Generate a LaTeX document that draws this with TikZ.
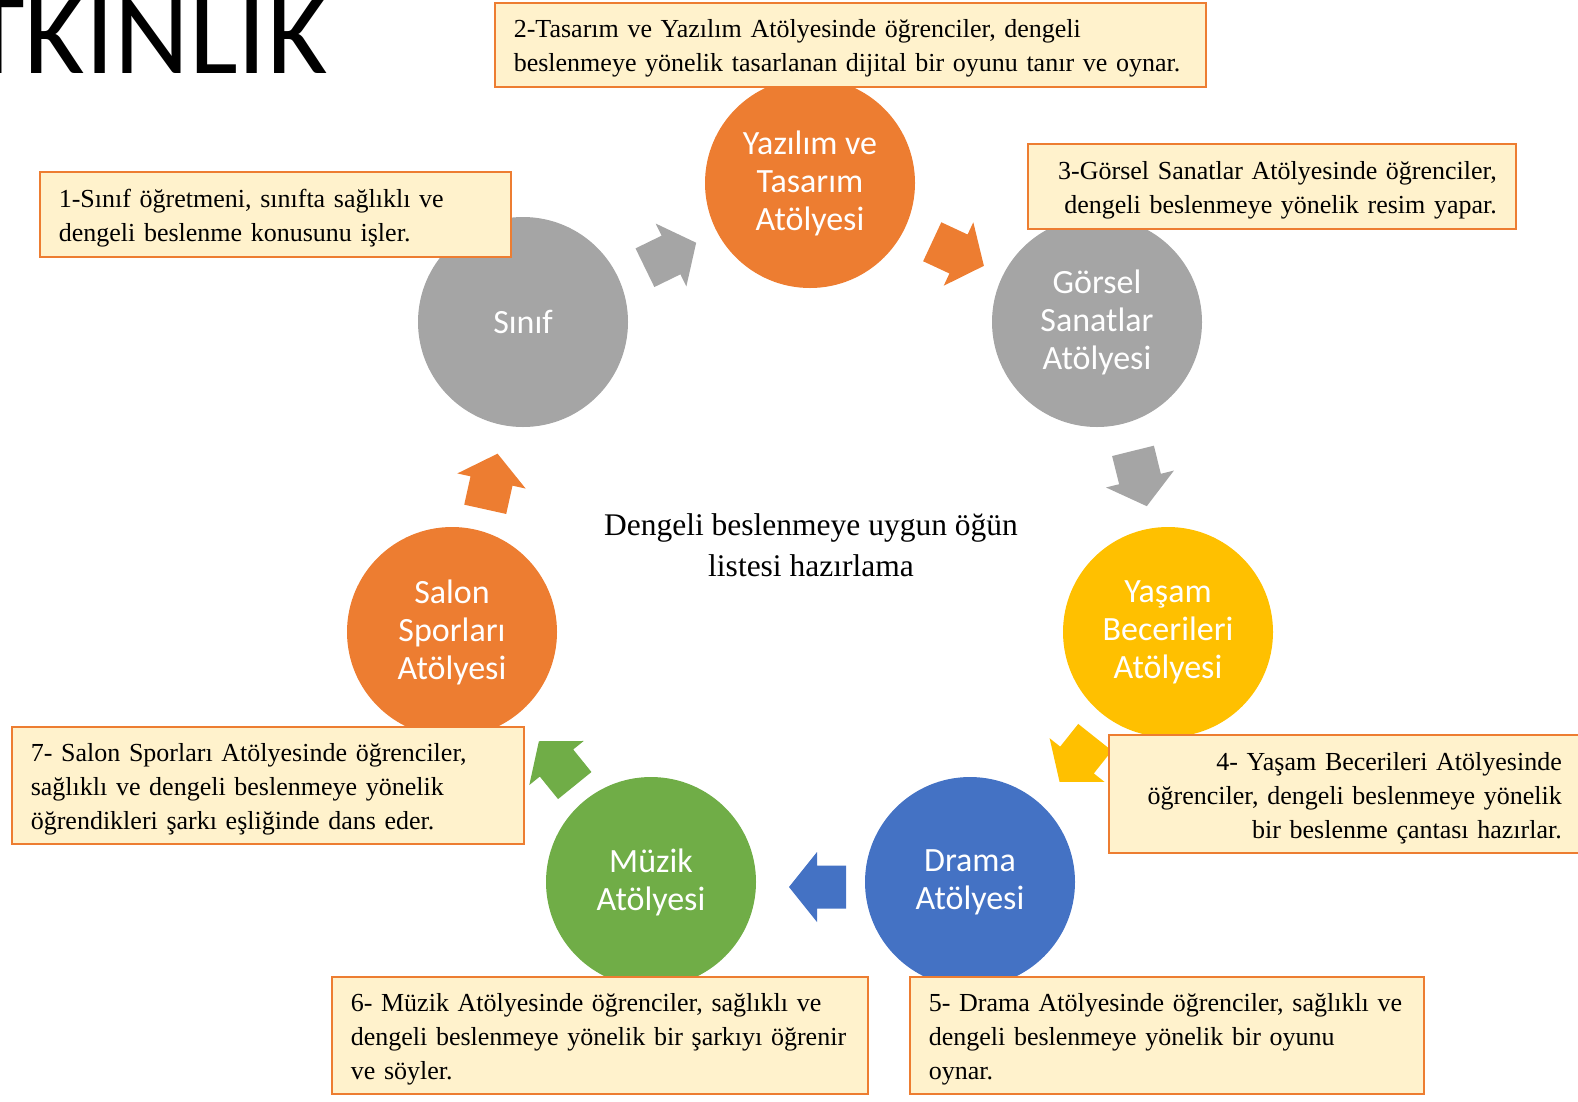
\documentclass[tikz,border=0pt]{standalone}
\usepackage{fontspec}
\setmainfont{Liberation Serif}
\newfontfamily\calib{Carlito}
\definecolor{cgray}{HTML}{A5A5A5}
\definecolor{corange}{HTML}{ED7D31}
\definecolor{cyellow}{HTML}{FFC000}
\definecolor{cblue}{HTML}{4472C4}
\definecolor{cgreen}{HTML}{70AD47}
\definecolor{cnote}{HTML}{FFF2CC}
\tikzset{
  circ/.style={circle, minimum size=210pt, inner sep=0pt, text=white,
    font=\calib\fontsize{34}{38}\selectfont, align=center},
  note/.style={draw=corange, line width=1.6pt, fill=cnote, rectangle,
    font=\fontsize{26}{34}\selectfont, inner xsep=19pt, inner ysep=0pt,
    anchor=north west, execute at begin node={\rule{0pt}{26pt}}},
  blockarrow/.pic={
    \fill[pic actions] (-29,-21.5) -- (0,-21.5) -- (0,-35) -- (28,0) -- (0,35) -- (0,21.5) -- (-29,21.5) -- cycle;
  }
}
\begin{document}
\begin{tikzpicture}[x=1pt,y=-1pt]
\useasboundingbox (0,0) rectangle (1578,1101);
\clip (0,0) rectangle (1578,1101);
% title
\node[anchor=base west, font=\calib\fontsize{116}{116}\selectfont, inner sep=0pt] (title) at (-32,73) {TKINLIK};
% circles
\node[circ, fill=cgray] (sinif) at (523,322) {Sınıf};
\node[circ, fill=corange] (yazilim) at (810,183) {Yazılım ve\\Tasarım\\Atölyesi};
\node[circ, fill=cgray] (gorsel) at (1097,322) {Görsel\\Sanatlar\\Atölyesi};
\node[circ, fill=cyellow] (yasam) at (1168,632) {Yaşam\\Becerileri\\Atölyesi};
\node[circ, fill=cblue] (drama) at (970,882) {Drama\\Atölyesi};
\node[circ, fill=cgreen] (muzik) at (651,882) {Müzik\\Atölyesi};
\node[circ, fill=corange] (salon) at (452,632) {Salon\\Sporları\\Atölyesi};
% block arrows
\path (671,255) pic[fill=cgray, rotate=26] {blockarrow};
\path (958.5,254) pic[fill=corange, rotate=-25] {blockarrow};
\path (1140,479) pic[fill=cgray, rotate=-76] {blockarrow};
\path (1077,760) pic[fill=cyellow, rotate=-128.5] {blockarrow};
\path (817,887) pic[fill=cblue, rotate=180] {blockarrow};
\path (556.5,763) pic[fill=cgreen, rotate=129] {blockarrow};
\path (491.5,481) pic[fill=corange, rotate=77.5] {blockarrow};
% centre text
\node[font=\fontsize{31.5}{41}\selectfont, align=center, inner sep=0pt] (centre) at (811,545) {Dengeli beslenmeye uygun öğün\\listesi hazırlama};
% notes
\node[note, text width=433pt, minimum height=85pt, align=left] (n1) at (39,171)
  {1-Sınıf öğretmeni, sınıfta sağlıklı ve\\dengeli beslenme konusunu işler.};
\node[note, text width=673pt, minimum height=84pt, align=left] (n2) at (494,2)
  {2-Tasarım ve Yazılım Atölyesinde öğrenciler, dengeli\\beslenmeye yönelik tasarlanan dijital bir oyunu tanır ve oynar.};
\node[note, text width=450pt, minimum height=85pt, align=right] (n3) at (1027,143)
  {3-Görsel Sanatlar Atölyesinde öğrenciler,\\dengeli beslenmeye yönelik resim yapar.};
\node[note, text width=434pt, minimum height=118pt, align=right] (n4) at (1108,734)
  {4- Yaşam Becerileri Atölyesinde\\öğrenciler, dengeli beslenmeye yönelik\\bir beslenme çantası hazırlar.};
\node[note, text width=476pt, minimum height=117pt, align=left] (n5) at (909,976)
  {5- Drama Atölyesinde öğrenciler, sağlıklı ve\\dengeli beslenmeye yönelik bir oyunu\\oynar.};
\node[note, text width=498pt, minimum height=117pt, align=left] (n6) at (331,976)
  {6- Müzik Atölyesinde öğrenciler, sağlıklı ve\\dengeli beslenmeye yönelik bir şarkıyı öğrenir\\ve söyler.};
\node[note, text width=474pt, minimum height=117pt, align=left] (n7) at (11,726)
  {7- Salon Sporları Atölyesinde öğrenciler,\\sağlıklı ve dengeli beslenmeye yönelik\\öğrendikleri şarkı eşliğinde dans eder.};
\end{tikzpicture}
\end{document}
